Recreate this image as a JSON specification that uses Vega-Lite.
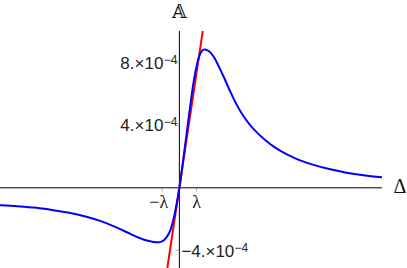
{
  "$schema": "https://vega.github.io/schema/vega-lite/v6.json",
  "width": 382,
  "height": 237,
  "autosize": "none",
  "padding": {"left": 0, "top": 31, "right": 25, "bottom": 0},
  "background": "white",
  "config": {"view": {"stroke": null}},
  "datasets": {
    "curve": [
      {"delta": -10.42, "A": -1.11},
      {"delta": -9.4, "A": -1.18},
      {"delta": -8.4, "A": -1.27},
      {"delta": -7.4, "A": -1.42},
      {"delta": -6.4, "A": -1.6},
      {"delta": -5.4, "A": -1.85},
      {"delta": -4.6, "A": -2.12},
      {"delta": -3.9, "A": -2.42},
      {"delta": -3.3, "A": -2.72},
      {"delta": -2.8, "A": -2.98},
      {"delta": -2.3, "A": -3.22},
      {"delta": -1.9, "A": -3.38},
      {"delta": -1.5, "A": -3.47},
      {"delta": -1.25, "A": -3.49},
      {"delta": -1.0, "A": -3.43},
      {"delta": -0.75, "A": -3.18},
      {"delta": -0.5, "A": -2.65},
      {"delta": -0.3, "A": -1.82},
      {"delta": -0.15, "A": -0.98},
      {"delta": 0, "A": 0},
      {"delta": 0.2, "A": 1.6},
      {"delta": 0.4, "A": 3.3},
      {"delta": 0.6, "A": 5.0},
      {"delta": 0.8, "A": 6.6},
      {"delta": 1.0, "A": 7.8},
      {"delta": 1.15, "A": 8.42},
      {"delta": 1.3, "A": 8.76},
      {"delta": 1.45, "A": 8.87},
      {"delta": 1.65, "A": 8.8},
      {"delta": 1.85, "A": 8.62},
      {"delta": 2.05, "A": 8.3},
      {"delta": 2.3, "A": 7.75},
      {"delta": 2.56, "A": 7.15},
      {"delta": 2.95, "A": 6.18},
      {"delta": 3.34, "A": 5.3},
      {"delta": 3.72, "A": 4.6},
      {"delta": 4.11, "A": 4.02},
      {"delta": 4.5, "A": 3.55},
      {"delta": 5.0, "A": 3.05},
      {"delta": 5.5, "A": 2.62},
      {"delta": 6.0, "A": 2.28},
      {"delta": 6.8, "A": 1.85},
      {"delta": 7.7, "A": 1.5},
      {"delta": 8.7, "A": 1.2},
      {"delta": 9.7, "A": 0.97},
      {"delta": 10.7, "A": 0.8},
      {"delta": 11.77, "A": 0.67}
    ],
    "tangent": [
      {"delta": -0.7, "A": -5.14},
      {"delta": 1.36, "A": 10.05}
    ]
  },
  "layer": [
    {
      "data": {"values": [{"A": 0}]},
      "mark": {"type": "rule", "color": "black", "strokeWidth": 1},
      "encoding": {
        "y": {"field": "A", "type": "quantitative", "scale": {"domain": [-5.14, 10.05], "nice": false, "zero": false}, "axis": null}
      }
    },
    {
      "data": {"values": [{"delta": 0}]},
      "mark": {"type": "rule", "color": "black", "strokeWidth": 1},
      "encoding": {
        "x": {"field": "delta", "type": "quantitative", "scale": {"domain": [-10.42, 11.77], "nice": false, "zero": false}, "axis": null}
      }
    },
    {
      "data": {"values": [{"delta": -1, "A": 0}, {"delta": 1, "A": 0}]},
      "mark": {"type": "tick", "orient": "vertical", "size": 4, "thickness": 1, "color": "#888", "yOffset": 2},
      "encoding": {
        "x": {"field": "delta", "type": "quantitative", "scale": {"domain": [-10.42, 11.77], "nice": false, "zero": false}, "axis": null},
        "y": {"field": "A", "type": "quantitative", "scale": {"domain": [-5.14, 10.05], "nice": false, "zero": false}, "axis": null}
      }
    },
    {
      "data": {"values": [{"delta": 0, "A": 8}, {"delta": 0, "A": 4}, {"delta": 0, "A": -4}]},
      "mark": {"type": "tick", "orient": "horizontal", "size": 4, "thickness": 1, "color": "#888", "xOffset": -2},
      "encoding": {
        "x": {"field": "delta", "type": "quantitative", "scale": {"domain": [-10.42, 11.77], "nice": false, "zero": false}, "axis": null},
        "y": {"field": "A", "type": "quantitative", "scale": {"domain": [-5.14, 10.05], "nice": false, "zero": false}, "axis": null}
      }
    },
    {
      "data": {"name": "tangent"},
      "mark": {"type": "line", "color": "#ff0000", "strokeWidth": 2, "clip": true},
      "encoding": {
        "x": {"field": "delta", "type": "quantitative", "scale": {"domain": [-10.42, 11.77], "nice": false, "zero": false}, "axis": null},
        "y": {"field": "A", "type": "quantitative", "scale": {"domain": [-5.14, 10.05], "nice": false, "zero": false}, "axis": null}
      }
    },
    {
      "data": {"name": "curve"},
      "mark": {"type": "line", "color": "#0000ff", "strokeWidth": 2, "interpolate": "monotone", "clip": true},
      "encoding": {
        "x": {"field": "delta", "type": "quantitative", "scale": {"domain": [-10.42, 11.77], "nice": false, "zero": false}, "axis": null},
        "y": {"field": "A", "type": "quantitative", "scale": {"domain": [-5.14, 10.05], "nice": false, "zero": false}, "axis": null}
      }
    },
    {
      "data": {"values": [{"delta": 0, "A": 8, "t": "8.×10"}, {"delta": 0, "A": 4, "t": "4.×10"}]},
      "mark": {"type": "text", "align": "right", "baseline": "alphabetic", "dx": -16, "dy": 6, "font": "Liberation Sans", "fontSize": 17, "color": "#222"},
      "encoding": {
        "x": {"field": "delta", "type": "quantitative", "scale": {"domain": [-10.42, 11.77], "nice": false, "zero": false}, "axis": null},
        "y": {"field": "A", "type": "quantitative", "scale": {"domain": [-5.14, 10.05], "nice": false, "zero": false}, "axis": null},
        "text": {"field": "t"}
      }
    },
    {
      "data": {"values": [{"delta": 0, "A": 8, "t": "−4"}, {"delta": 0, "A": 4, "t": "−4"}]},
      "mark": {"type": "text", "align": "right", "baseline": "alphabetic", "dx": -2, "dy": 1, "font": "Liberation Sans", "fontSize": 12, "color": "#222"},
      "encoding": {
        "x": {"field": "delta", "type": "quantitative", "scale": {"domain": [-10.42, 11.77], "nice": false, "zero": false}, "axis": null},
        "y": {"field": "A", "type": "quantitative", "scale": {"domain": [-5.14, 10.05], "nice": false, "zero": false}, "axis": null},
        "text": {"field": "t"}
      }
    },
    {
      "data": {"values": [{"delta": 0, "A": -4, "t": "−4.×10"}]},
      "mark": {"type": "text", "align": "left", "baseline": "alphabetic", "dx": 2, "dy": 7, "font": "Liberation Sans", "fontSize": 17, "color": "#222"},
      "encoding": {
        "x": {"field": "delta", "type": "quantitative", "scale": {"domain": [-10.42, 11.77], "nice": false, "zero": false}, "axis": null},
        "y": {"field": "A", "type": "quantitative", "scale": {"domain": [-5.14, 10.05], "nice": false, "zero": false}, "axis": null},
        "text": {"field": "t"}
      }
    },
    {
      "data": {"values": [{"delta": 0, "A": -4, "t": "−4"}]},
      "mark": {"type": "text", "align": "left", "baseline": "alphabetic", "dx": 55, "dy": 2, "font": "Liberation Sans", "fontSize": 12, "color": "#222"},
      "encoding": {
        "x": {"field": "delta", "type": "quantitative", "scale": {"domain": [-10.42, 11.77], "nice": false, "zero": false}, "axis": null},
        "y": {"field": "A", "type": "quantitative", "scale": {"domain": [-5.14, 10.05], "nice": false, "zero": false}, "axis": null},
        "text": {"field": "t"}
      }
    },
    {
      "data": {"values": [{"delta": 1, "A": 0, "t": "λ"}]},
      "mark": {"type": "text", "align": "center", "baseline": "alphabetic", "dy": 20, "font": "Liberation Serif", "fontSize": 18, "color": "#222"},
      "encoding": {
        "x": {"field": "delta", "type": "quantitative", "scale": {"domain": [-10.42, 11.77], "nice": false, "zero": false}, "axis": null},
        "y": {"field": "A", "type": "quantitative", "scale": {"domain": [-5.14, 10.05], "nice": false, "zero": false}, "axis": null},
        "text": {"field": "t"}
      }
    },
    {
      "data": {"values": [{"delta": -1, "A": 0, "t": "−λ"}]},
      "mark": {"type": "text", "align": "right", "baseline": "alphabetic", "dx": 6, "dy": 20, "font": "Liberation Serif", "fontSize": 18, "color": "#222"},
      "encoding": {
        "x": {"field": "delta", "type": "quantitative", "scale": {"domain": [-10.42, 11.77], "nice": false, "zero": false}, "axis": null},
        "y": {"field": "A", "type": "quantitative", "scale": {"domain": [-5.14, 10.05], "nice": false, "zero": false}, "axis": null},
        "text": {"field": "t"}
      }
    },
    {
      "data": {"values": [{"delta": 11.77, "A": 0, "t": "Δ"}]},
      "mark": {"type": "text", "align": "center", "baseline": "alphabetic", "dx": 18, "dy": 5, "font": "Liberation Serif", "fontSize": 20, "color": "#111"},
      "encoding": {
        "x": {"field": "delta", "type": "quantitative", "scale": {"domain": [-10.42, 11.77], "nice": false, "zero": false}, "axis": null},
        "y": {"field": "A", "type": "quantitative", "scale": {"domain": [-5.14, 10.05], "nice": false, "zero": false}, "axis": null},
        "text": {"field": "t"}
      }
    },
    {
      "data": {"values": [{"delta": 0, "A": 10.05, "t": "𝔸"}]},
      "mark": {"type": "text", "align": "center", "baseline": "alphabetic", "dy": -13, "font": "DejaVu Serif", "fontSize": 19, "color": "#111"},
      "encoding": {
        "x": {"field": "delta", "type": "quantitative", "scale": {"domain": [-10.42, 11.77], "nice": false, "zero": false}, "axis": null},
        "y": {"field": "A", "type": "quantitative", "scale": {"domain": [-5.14, 10.05], "nice": false, "zero": false}, "axis": null},
        "text": {"field": "t"}
      }
    }
  ]
}
